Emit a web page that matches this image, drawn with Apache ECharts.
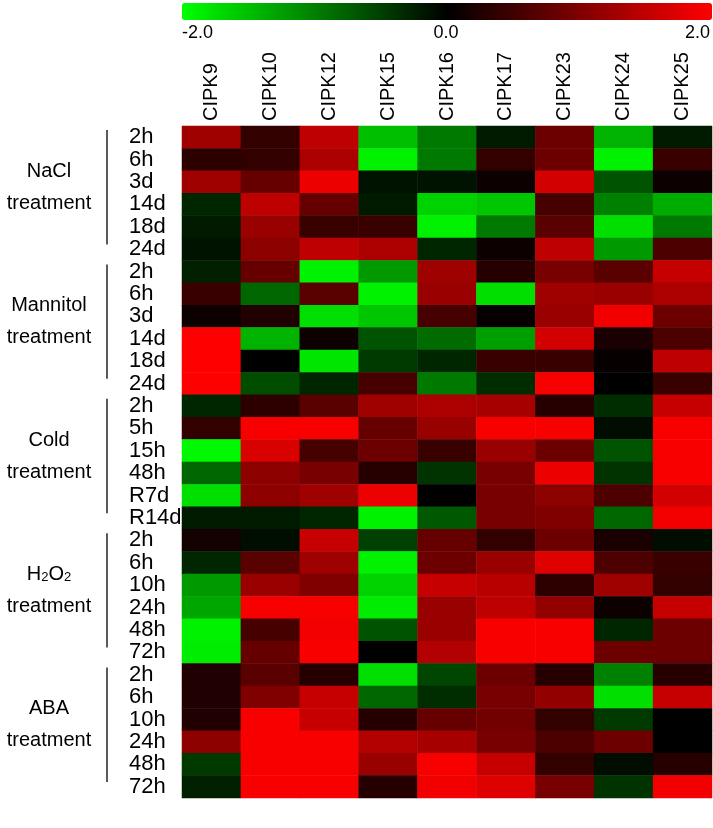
<!DOCTYPE html>
<html>
<head>
<meta charset="utf-8">
<script src="https://cdn.jsdelivr.net/npm/echarts@6/dist/echarts.min.js"></script>
<style>
html,body{margin:0;padding:0;background:#fff;}
#chart{width:713px;height:828px;}
</style>
</head>
<body>
<div id="chart"></div>
<script>
const genes = ['CIPK9','CIPK10','CIPK12','CIPK15','CIPK16','CIPK17','CIPK23','CIPK24','CIPK25'];
const treatments = ['NaCl','Mannitol','Cold','H2O2','ABA'];
const timesNaCl = ['2h','6h','3d','14d','18d','24d'];
const timesMannitol = ['2h','6h','3d','14d','18d','24d'];
const timesCold = ['2h','5h','15h','48h','R7d','R14d'];
const timesH2O2 = ['2h','6h','10h','24h','48h','72h'];
const timesABA = ['2h','6h','10h','24h','48h','72h'];
const colorbarTicks = [-2, 0, 2];

// log2 expression ratios, one row per time point, columns follow genes
const valuesNaCl = [
  [1.25, 0.40, 1.50, -1.50, -0.95, -0.20, 0.85, -1.40, -0.20],
  [0.35, 0.40, 1.35, -1.90, -0.95, 0.40, 0.85, -1.90, 0.45],
  [1.25, 0.80, 1.85, -0.15, -0.15, 0.10, 1.65, -0.65, 0.10],
  [-0.30, 1.50, 0.80, -0.20, -1.65, -1.55, 0.55, -1.00, -1.35],
  [-0.20, 1.20, 0.45, 0.45, -1.90, -0.95, 0.70, -1.75, -0.95],
  [-0.15, 1.10, 1.50, 1.35, -0.30, 0.10, 1.50, -1.20, 0.60]
];
const valuesMannitol = [
  [-0.25, 0.80, -1.90, -1.20, 1.25, 0.30, 0.95, 0.70, 1.55],
  [0.45, -0.80, 0.70, -1.90, 1.20, -1.75, 1.25, 1.20, 1.35],
  [0.10, 0.25, -1.75, -1.55, 0.55, 0.05, 1.20, 1.90, 0.85],
  [2.00, -1.40, 0.10, -0.65, -0.85, -1.25, 1.65, 0.20, 0.60],
  [2.00, 0.00, -1.80, -0.45, -0.30, 0.45, 0.45, 0.05, 1.50],
  [2.00, -0.60, -0.30, 0.55, -0.95, -0.35, 1.95, 0.00, 0.45]
];
const valuesCold = [
  [-0.30, 0.35, 0.70, 1.25, 1.35, 1.30, 0.30, -0.35, 1.55],
  [0.40, 1.95, 1.95, 0.80, 1.20, 1.95, 1.95, -0.10, 1.95],
  [-1.95, 1.70, 0.55, 0.85, 0.45, 1.20, 0.85, -0.65, 1.95],
  [-0.80, 1.10, 0.95, 0.30, -0.40, 0.95, 1.85, -0.40, 1.95],
  [-1.75, 1.10, 1.25, 1.85, 0.00, 0.95, 1.10, 0.60, 1.65],
  [-0.20, -0.20, -0.30, -1.90, -0.70, 0.95, 1.00, -0.80, 1.90]
];
const valuesH2O2 = [
  [0.15, -0.10, 1.55, -0.50, 0.80, 0.40, 0.85, 0.20, -0.10],
  [-0.30, 0.70, 1.25, -1.90, 0.85, 1.20, 1.75, 0.60, 0.45],
  [-1.20, 1.20, 1.00, -1.65, 1.55, 1.45, 0.35, 1.25, 0.40],
  [-1.30, 1.95, 1.95, -1.85, 1.20, 1.50, 1.15, 0.10, 1.55],
  [-1.90, 0.55, 1.90, -0.65, 1.20, 1.95, 1.95, -0.30, 0.85],
  [-1.85, 0.80, 1.95, 0.00, 1.40, 1.95, 1.95, 0.85, 0.85]
];
const valuesABA = [
  [0.25, 0.70, 0.30, -1.75, -0.55, 0.85, 0.30, -1.00, 0.30],
  [0.25, 1.00, 1.55, -0.80, -0.35, 0.95, 1.15, -1.75, 1.55],
  [0.25, 1.95, 1.55, 0.30, 0.80, 0.90, 0.40, -0.45, 0.00],
  [1.10, 1.95, 1.95, 1.40, 1.30, 0.95, 0.60, 0.85, 0.00],
  [-0.45, 1.95, 1.95, 1.20, 1.95, 1.55, 0.40, -0.10, 0.30],
  [-0.25, 1.95, 1.95, 0.30, 1.90, 1.75, 0.95, -0.40, 1.90]
];

const FONT = "'Liberation Sans', Arial, Helvetica, sans-serif";
const groups = [
  {name: treatments[0], times: timesNaCl, values: valuesNaCl},
  {name: treatments[1], times: timesMannitol, values: valuesMannitol},
  {name: treatments[2], times: timesCold, values: valuesCold},
  {name: treatments[3], times: timesH2O2, values: valuesH2O2},
  {name: treatments[4], times: timesABA, values: valuesABA}
];

const rowCats = [];
const data = [];
groups.forEach(g => {
  g.times.forEach((t, i) => {
    const r = rowCats.length;
    rowCats.push(g.name + '|' + t);
    g.values[i].forEach((v, c) => data.push([c, r, v]));
  });
});

const chart = echarts.init(document.getElementById('chart'), null, {renderer: 'canvas'});
chart.setOption({
  animation: false,
  backgroundColor: '#fff',
  grid: [
    {left: 182, right: 1, top: 126, bottom: 30},
    {left: 182, right: 1, top: 20, height: 1}
  ],
  xAxis: [
    {
      type: 'category', data: genes, position: 'top', gridIndex: 0,
      axisLine: {show: false}, axisTick: {show: false}, splitLine: {show: false},
      axisLabel: {interval: 0, rotate: -90, fontSize: 20, color: '#000', margin: 5, fontFamily: FONT}
    },
    {
      type: 'value', gridIndex: 1, min: -2, max: 2, interval: 2,
      axisLine: {show: false}, axisTick: {show: false}, splitLine: {show: false},
      axisLabel: {
        fontSize: 18, color: '#000', margin: 3, fontFamily: FONT,
        alignMinLabel: 'left', alignMaxLabel: 'right',
        customValues: colorbarTicks,
        formatter: v => v.toFixed(1)
      }
    }
  ],
  yAxis: [
    {
      type: 'category', data: rowCats, inverse: true, gridIndex: 0,
      axisLine: {show: false}, axisTick: {show: false}, splitLine: {show: false},
      axisLabel: {
        interval: 0, fontSize: 22, color: '#000', margin: 53, align: 'left', fontFamily: FONT,
        formatter: v => v.split('|')[1]
      }
    },
    {type: 'value', gridIndex: 1, show: false}
  ],
  visualMap: {
    type: 'continuous', seriesIndex: 0, min: -2, max: 2,
    orient: 'horizontal', left: 182, top: 3, padding: 0,
    itemWidth: 17, itemHeight: 530, calculable: false, hoverLink: false,
    text: null, showLabel: false,
    inRange: {color: ['#00ff00', '#000000', '#ff0000']}
  },
  series: [{
    type: 'heatmap', xAxisIndex: 0, yAxisIndex: 0, data: data,
    itemStyle: {borderWidth: 0},
    emphasis: {disabled: true}
  }]
});

// group brackets and labels, positioned from the axis scale
const graphics = [];
let start = 0;
groups.forEach(g => {
  const first = rowCats[start];
  const last = rowCats[start + g.times.length - 1];
  const y0 = chart.convertToPixel({yAxisIndex: 0}, first);
  const y1 = chart.convertToPixel({yAxisIndex: 0}, last);
  const step = g.times.length > 1 ? (y1 - y0) / (g.times.length - 1) : 22;
  const top = y0 - step / 2, bottom = y1 + step / 2;
  const mid = (top + bottom) / 2;
  graphics.push({
    type: 'rect', shape: {x: 106, y: top + 4, width: 2, height: bottom - top - 20},
    style: {fill: '#5a5a5a'}, silent: true
  });
  const isH2O2 = g.name === 'H2O2';
  graphics.push({
    type: 'text', x: 49, y: mid - 22, silent: true,
    style: isH2O2 ? {
      text: 'H{s|2}O{s|2}', fontSize: 20, fontFamily: FONT, fill: '#000',
      align: 'center', verticalAlign: 'middle',
      rich: {s: {fontSize: 13, fontFamily: FONT, fill: '#000', verticalAlign: 'bottom', padding: [6, 0, 0, 0]}}
    } : {
      text: g.name, fontSize: 20, fontFamily: FONT, fill: '#000',
      align: 'center', verticalAlign: 'middle'
    }
  });
  graphics.push({
    type: 'text', x: 49, y: mid + 10, silent: true,
    style: {text: 'treatment', fontSize: 20, fontFamily: FONT, fill: '#000', align: 'center', verticalAlign: 'middle'}
  });
  start += g.times.length;
});
chart.setOption({graphic: graphics});
</script>
</body>
</html>
